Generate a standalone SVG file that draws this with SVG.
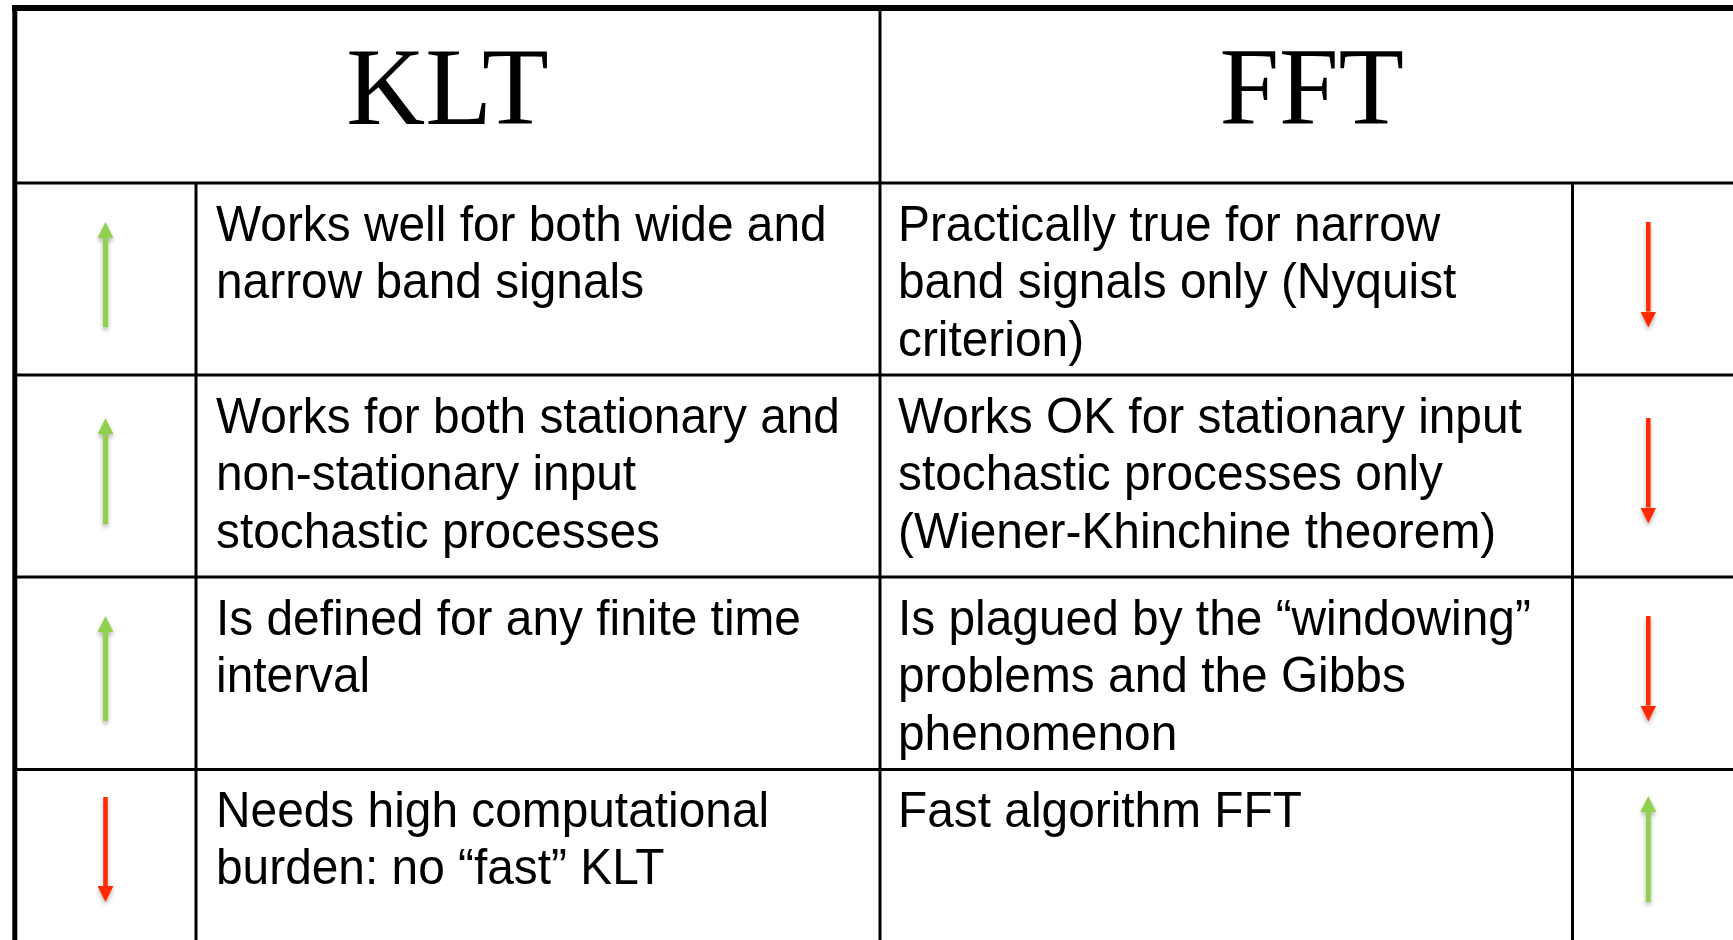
<svg xmlns="http://www.w3.org/2000/svg" width="1733" height="940" viewBox="0 0 1733 940">
<style>
  .grid { stroke: #000; fill: none; }
  .thin { stroke-width: 3; }
  .head { font-family: "Liberation Serif", "Times New Roman", serif; font-size: 111px; fill: #000; text-anchor: middle; }
  .body { font-family: "Liberation Sans", Arial, sans-serif; font-size: 50px; fill: #000; }
  .up { stroke: #92D050; stroke-width: 5; marker-end: url(#hg); }
  .down { stroke: #FF2A00; stroke-width: 4.5; marker-end: url(#hr); }
</style>
<defs>
  <filter id="sh" filterUnits="userSpaceOnUse" x="0" y="0" width="1733" height="940">
    <feDropShadow dx="0" dy="3" stdDeviation="2" flood-color="#000" flood-opacity="0.3"/>
  </filter>
  <marker id="hg" markerUnits="userSpaceOnUse" markerWidth="16" markerHeight="16" refX="0" refY="8" orient="auto" viewBox="0 0 16 16">
    <path d="M0,0 L16,8 L0,16 z" fill="#92D050"/>
  </marker>
  <marker id="hr" markerUnits="userSpaceOnUse" markerWidth="16" markerHeight="16" refX="0" refY="8" orient="auto" viewBox="0 0 16 16">
    <path d="M0,0 L16,8 L0,16 z" fill="#FF2A00"/>
  </marker>
</defs>
<rect x="0" y="0" width="1733" height="940" fill="#fff"/>

<g id="table-grid" class="grid">
  <line x1="12" y1="8" x2="1733" y2="8" stroke-width="6"/>
  <line x1="14.8" y1="5" x2="14.8" y2="940" stroke-width="5"/>
  <line class="thin" x1="15" y1="183" x2="1733" y2="183"/>
  <line class="thin" x1="15" y1="375" x2="1733" y2="375"/>
  <line class="thin" x1="15" y1="577" x2="1733" y2="577"/>
  <line class="thin" x1="15" y1="769.5" x2="1733" y2="769.5"/>
  <line class="thin" x1="196" y1="183" x2="196" y2="940"/>
  <line class="thin" x1="880" y1="8" x2="880" y2="940"/>
  <line class="thin" x1="1572.5" y1="183" x2="1572.5" y2="940"/>
</g>

<g id="header-klt" transform="translate(447.5,124) scale(0.985,1)">
  <text class="head" x="0" y="0">KLT</text>
</g>
<g id="header-fft" transform="translate(1311.7,124) scale(0.965,1)">
  <text class="head" x="0" y="0">FFT</text>
</g>

<g id="klt-row1" transform="translate(216,0) scale(0.957,1)">
  <text class="body"><tspan x="0" y="241">Works well for both wide and</tspan><tspan x="0" y="298.5">narrow band signals</tspan></text>
</g>
<g id="fft-row1" transform="translate(898,0) scale(0.957,1)">
  <text class="body"><tspan x="0" y="241">Practically true for narrow</tspan><tspan x="0" y="298.5">band signals only (Nyquist</tspan><tspan x="0" y="356">criterion)</tspan></text>
</g>
<g id="klt-row2" transform="translate(216,0) scale(0.957,1)">
  <text class="body"><tspan x="0" y="433">Works for both stationary and</tspan><tspan x="0" y="490.5">non-stationary input</tspan><tspan x="0" y="548">stochastic processes</tspan></text>
</g>
<g id="fft-row2" transform="translate(898,0) scale(0.957,1)">
  <text class="body"><tspan x="0" y="433">Works OK for stationary input</tspan><tspan x="0" y="490.5">stochastic processes only</tspan><tspan x="0" y="548">(Wiener-Khinchine theorem)</tspan></text>
</g>
<g id="klt-row3" transform="translate(216,0) scale(0.957,1)">
  <text class="body"><tspan x="0" y="635">Is defined for any finite time</tspan><tspan x="0" y="692.5">interval</tspan></text>
</g>
<g id="fft-row3" transform="translate(898,0) scale(0.957,1)">
  <text class="body"><tspan x="0" y="635">Is plagued by the “windowing”</tspan><tspan x="0" y="692.5">problems and the Gibbs</tspan><tspan x="0" y="750">phenomenon</tspan></text>
</g>
<g id="klt-row4" transform="translate(216,0) scale(0.957,1)">
  <text class="body"><tspan x="0" y="827">Needs high computational</tspan><tspan x="0" y="884.5">burden: no “fast” KLT</tspan></text>
</g>
<g id="fft-row4" transform="translate(898,0) scale(0.957,1)">
  <text class="body"><tspan x="0" y="827">Fast algorithm FFT</tspan></text>
</g>

<g id="connectors" filter="url(#sh)">
  <line class="up" x1="105.5" y1="327" x2="105.5" y2="238"/>
  <line class="up" x1="105.5" y1="524" x2="105.5" y2="434"/>
  <line class="up" x1="105.5" y1="721" x2="105.5" y2="632"/>
  <line class="down" x1="105.5" y1="797" x2="105.5" y2="886"/>
  <line class="down" x1="1648.3" y1="222" x2="1648.3" y2="311.5"/>
  <line class="down" x1="1648.3" y1="418" x2="1648.3" y2="507.5"/>
  <line class="down" x1="1648.3" y1="616" x2="1648.3" y2="705.5"/>
  <line class="up" x1="1648.3" y1="902" x2="1648.3" y2="812"/>
</g>
</svg>
